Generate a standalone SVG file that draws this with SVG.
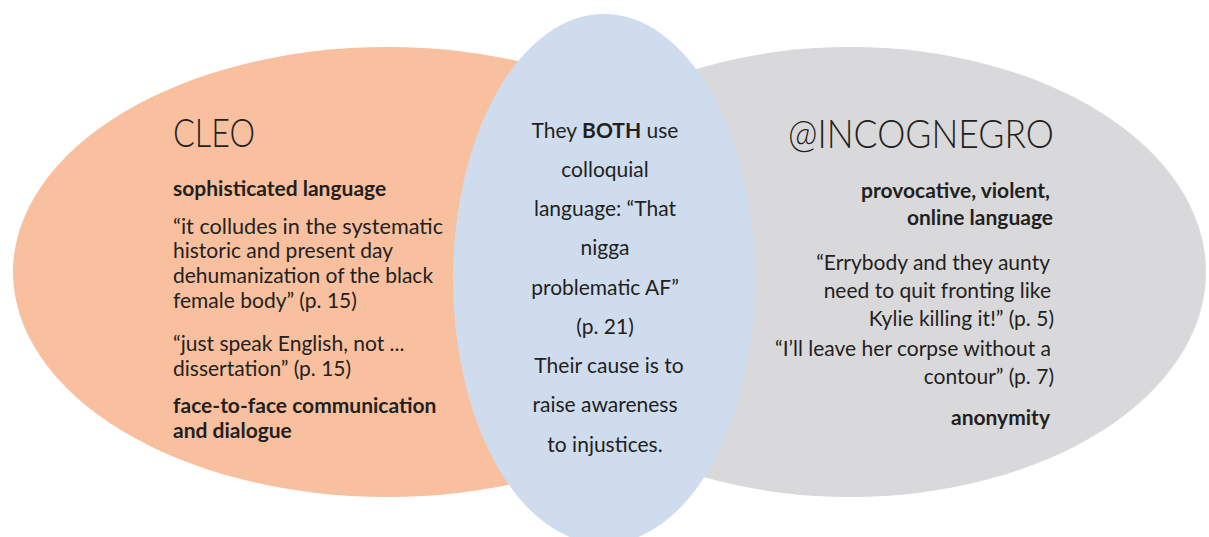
<svg xmlns="http://www.w3.org/2000/svg" width="1209" height="537" viewBox="0 0 1209 537">
<style>
text{font-family:Lato,"Open Sans","Liberation Sans",sans-serif;fill:#231F20;font-size:21px}
.t{font-size:39px;font-weight:300}
.b{font-weight:bold}
.c{text-anchor:middle}
.r{text-anchor:end}
</style>
<rect width="1209" height="537" fill="#fff"/>
<g id="cleo">
<ellipse cx="387" cy="272" rx="374" ry="225" fill="#F8C09E"/>
</g>
<g id="incognegro">
<ellipse cx="850" cy="272" rx="356" ry="225" fill="#D9D9DB"/>
</g>
<g id="both">
<ellipse cx="604" cy="279" rx="151" ry="265" fill="#CEDCEE"/>
</g>
<g id="cleo-text">
<text class="t" x="173" y="147" textLength="82" lengthAdjust="spacingAndGlyphs">CLEO</text>
<text class="b" x="173" y="196">sophisticated language</text>
<text x="173" y="234" textLength="270" lengthAdjust="spacingAndGlyphs">“it colludes in the systematic</text>
<text x="173" y="258">historic and present day</text>
<text x="173" y="283">dehumanization of the black</text>
<text x="173" y="308">female body” (p. 15)</text>
<text x="173" y="351">“just speak English,  not ...</text>
<text x="173" y="376">dissertation” (p. 15)</text>
<text class="b" x="173" y="413">face-to-face communication</text>
<text class="b" x="173" y="438">and dialogue</text>
</g>
<g id="both-text">
<text class="c" x="605" y="138">They <tspan class="b">BOTH</tspan> use</text>
<text class="c" x="605" y="177">colloquial</text>
<text class="c" x="605" y="216">language: “That</text>
<text class="c" x="605" y="255">nigga</text>
<text class="c" x="605" y="295">problematic AF”</text>
<text class="c" x="605" y="334">(p. 21)</text>
<text class="c" x="609" y="373">Their cause is to</text>
<text class="c" x="605" y="412">raise awareness</text>
<text class="c" x="605" y="452">to injustices.</text>
</g>
<g id="incognegro-text">
<text class="t r" x="1054" y="148" textLength="266" lengthAdjust="spacingAndGlyphs">@INCOGNEGRO</text>
<text class="b r" x="1050" y="198">provocative, violent,</text>
<text class="b r" x="1053" y="225">online language</text>
<text class="r" x="1050" y="270">“Errybody and they aunty</text>
<text class="r" x="1051" y="298">need to quit fronting like</text>
<text class="r" x="1054" y="326">Kylie killing it!” (p. 5)</text>
<text class="r" x="1051" y="356">“I’ll leave her corpse without a</text>
<text class="r" x="1054" y="384">contour” (p. 7)</text>
<text class="b r" x="1050" y="425">anonymity</text>
</g>
</svg>
